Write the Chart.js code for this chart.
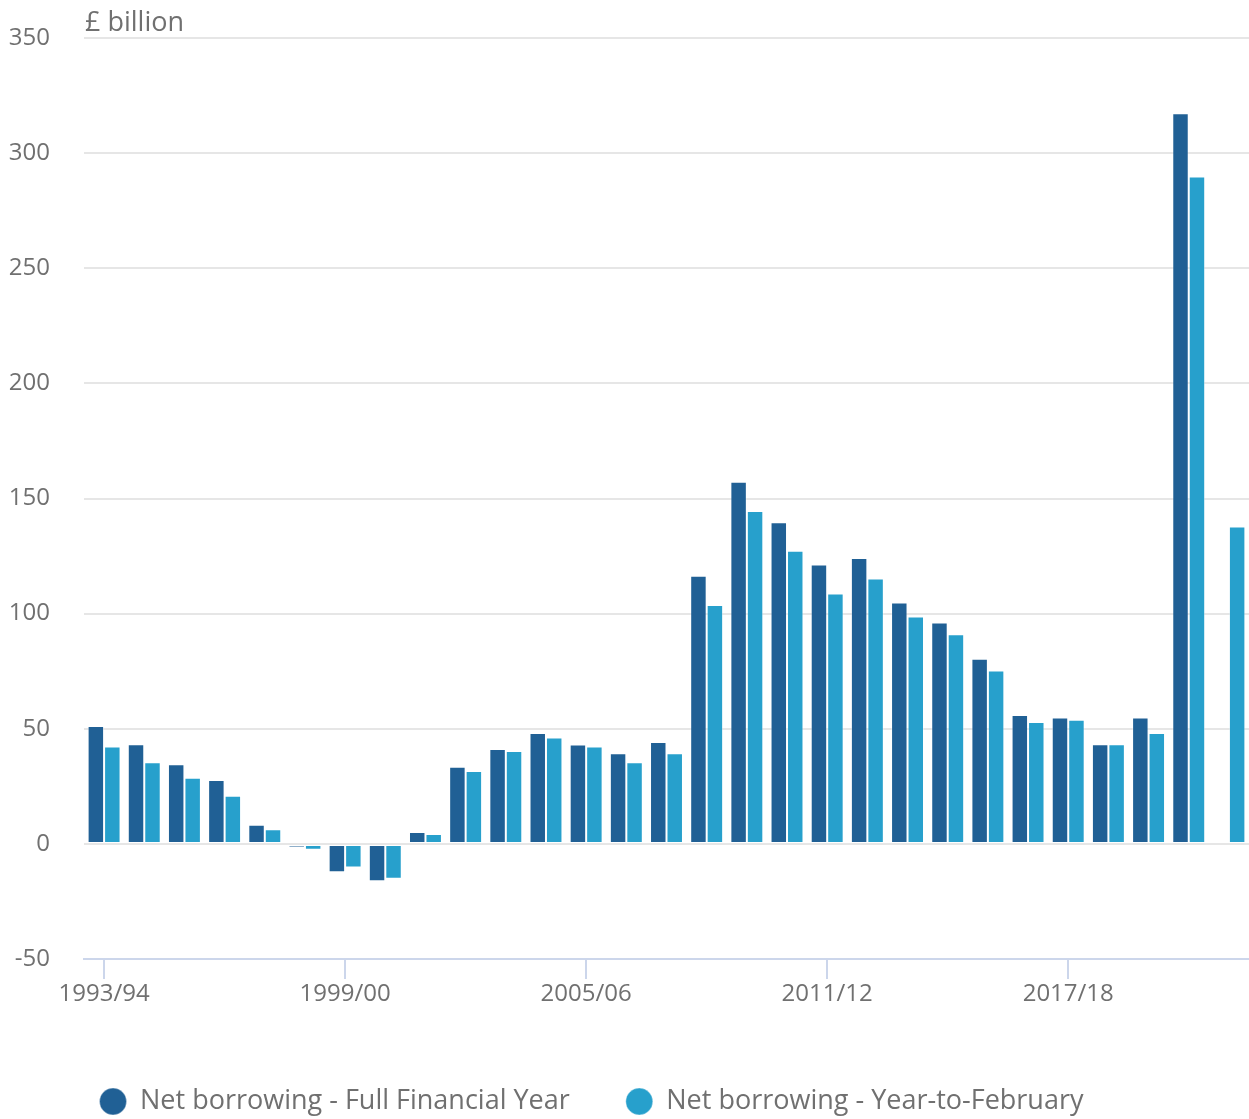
<!DOCTYPE html>
<html>
<head>
<meta charset="utf-8">
<script src="https://cdn.jsdelivr.net/npm/chart.js@4/dist/chart.umd.min.js"></script>
<style>
  html, body { margin: 0; padding: 0; background: #fff; }
  #wrap { width: 1249px; height: 1119px; }
</style>
</head>
<body>
<div id="wrap"><canvas id="borrowing-chart" width="1249" height="1119"></canvas></div>
<script>
// Financial years shown on the x axis
const years = [
    '1993/94', '1994/95', '1995/96', '1996/97', '1997/98', '1998/99', '1999/00', '2000/01',
    '2001/02', '2002/03', '2003/04', '2004/05', '2005/06', '2006/07', '2007/08', '2008/09',
    '2009/10', '2010/11', '2011/12', '2012/13', '2013/14', '2014/15', '2015/16', '2016/17',
    '2017/18', '2018/19', '2019/20', '2020/21', '2021/22'
];

// £ billion
const fullYear = [
    51.2, 43.3, 34.6, 27.7, 8.3, -1.6, -12.3, -16.2,
    5.2, 33.5, 41.2, 48.1, 43.2, 39.4, 44.2, 116.5,
    157.3, 139.7, 121.3, 124.2, 104.8, 96.1, 80.4, 56.0,
    54.9, 43.3, 54.9, 317.3, null
];
const yearToFeb = [
    42.3, 35.5, 28.7, 20.9, 6.4, -2.5, -10.3, -15.2,
    4.3, 31.6, 40.3, 46.2, 42.3, 35.5, 39.4, 103.8,
    144.6, 127.3, 108.7, 115.3, 98.8, 91.0, 75.3, 52.9,
    53.9, 43.3, 48.1, 289.9, 137.8
];

const yTicks = [-50, 0, 50, 100, 150, 200, 250, 300, 350];

const textColour = '#707070';
const fontFamily = '"Open Sans", "Noto Sans", sans-serif';

// Draw the unit label above the plot, lined up with the plot's left edge
const unitLabel = {
    id: 'unitLabel',
    afterDraw(chart) {
        const ctx = chart.ctx;
        ctx.save();
        ctx.font = '27px ' + fontFamily;
        ctx.fillStyle = textColour;
        ctx.textAlign = 'left';
        ctx.textBaseline = 'alphabetic';
        ctx.fillText('£ billion', chart.chartArea.left + 1, 31);
        ctx.restore();
    }
};

// Move the legend to where the original puts it
const legendShift = {
    id: 'legendShift',
    afterLayout(chart) {
        const legend = chart.legend;
        if (!legend) return;
        const dx = -38;
        const dy = 1032 - legend.top;
        legend.left += dx;
        legend.right += dx;
        legend.top += dy;
        legend.bottom += dy;
    }
};

const borrowingChart = new Chart(document.getElementById('borrowing-chart'), {
    type: 'bar',
    data: {
        labels: years,
        datasets: [{
            label: 'Net borrowing - Full Financial Year',
            data: fullYear,
            backgroundColor: '#206095',
            borderColor: 'rgba(255, 255, 255, 0.35)',
            borderWidth: 1,
            borderSkipped: false
        }, {
            label: 'Net borrowing - Year-to-February',
            data: yearToFeb,
            backgroundColor: '#27a0cc',
            borderColor: 'rgba(255, 255, 255, 0.35)',
            borderWidth: 1,
            borderSkipped: false
        }]
    },
    options: {
        responsive: false,
        animation: false,
        devicePixelRatio: 1,
        categoryPercentage: 0.82,
        barPercentage: 1.0,
        layout: {
            padding: { top: 38, left: 7, right: -3, bottom: 0 }
        },
        plugins: {
            tooltip: { enabled: false },
            legend: {
                position: 'bottom',
                labels: {
                    usePointStyle: true,
                    pointStyle: 'circle',
                    boxHeight: 19,
                    pointStyleWidth: 27,
                    padding: 56,
                    color: textColour,
                    font: { family: fontFamily, size: 27 }
                }
            }
        },
        scales: {
            x: {
                offset: true,
                afterFit: axis => { axis.height = 67; },
                border: { display: true, color: '#ccd6eb', width: 2 },
                grid: {
                    offset: false,
                    drawOnChartArea: false,
                    drawTicks: true,
                    tickLength: 20,
                    lineWidth: 2,
                    color: ctx => (ctx.index % 6 === 0 ? '#ccd6eb' : 'rgba(0,0,0,0)')
                },
                ticks: {
                    autoSkip: false,
                    maxRotation: 0,
                    padding: 1,
                    color: textColour,
                    font: { family: fontFamily, size: 24 },
                    callback: function (value, index) {
                        return index % 6 === 0 ? this.getLabelForValue(value) : '';
                    }
                }
            },
            y: {
                min: yTicks[0],
                max: yTicks[yTicks.length - 1],
                afterFit: axis => {
                    axis.width = 77;
                    axis.paddingTop = 0;
                    axis.paddingBottom = 0;
                },
                afterBuildTicks: axis => { axis.ticks = yTicks.map(v => ({ value: v })); },
                border: { display: false },
                grid: {
                    drawTicks: false,
                    color: '#e6e6e6',
                    lineWidth: 2
                },
                ticks: {
                    padding: 34,
                    color: textColour,
                    font: { family: fontFamily, size: 24 }
                }
            }
        }
    },
    plugins: [unitLabel, legendShift]
});
</script>
</body>
</html>
